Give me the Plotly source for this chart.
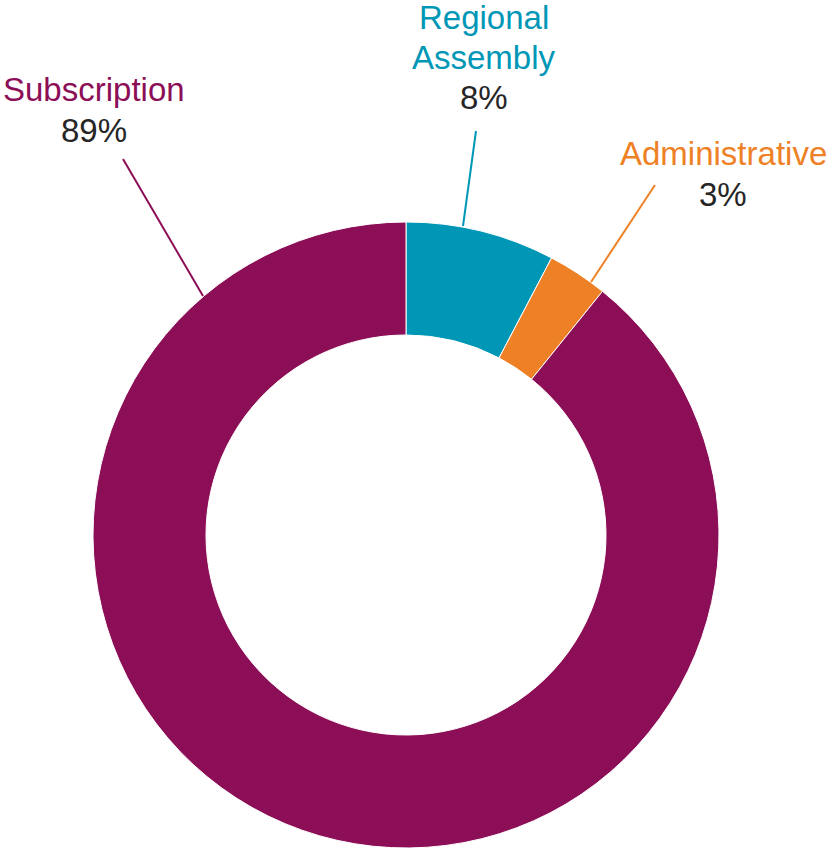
import plotly.graph_objects as go

categories = ["Regional Assembly", "Administrative", "Subscription"]
values = [7.7, 3.1, 89.2]
colors = ["#0097B7", "#EE8125", "#8C0E57"]
display_lines = [["Regional", "Assembly"], ["Administrative"], ["Subscription"]]

W, H = 830, 850

fig = go.Figure(go.Pie(
    labels=categories,
    values=values,
    marker=dict(colors=colors, line=dict(color="white", width=1)),
    hole=0.639,
    sort=False,
    direction="clockwise",
    rotation=0,
    textinfo="none",
    hoverinfo="label+percent",
    domain=dict(x=[93 / W, 719 / W], y=[1 - 848 / H, 1 - 222 / H]),
    showlegend=False,
))

total = sum(values)
# label placement (pixels): text center x, line center ys, leader line start/end
label_pos = {
    "Regional Assembly": dict(cx=484, ys=[18, 57.5, 98], l0=(476, 131), l1=(463, 226)),
    "Administrative": dict(cx=723, ys=[154, 194], l0=(655, 185), l1=(591, 282)),
    "Subscription": dict(cx=94, ys=[90, 131], l0=(123, 159), l1=(203, 296)),
}

FONT = "Liberation Sans, Arial, sans-serif"
annotations = []
shapes = []
for name, dl, v, c in zip(categories, display_lines, values, colors):
    p = label_pos[name]
    pct = round(v / total * 100)
    texts = [(t, c) for t in dl] + [(f"{pct}%", "#262626")]
    for (t, col), yy in zip(texts, p["ys"]):
        annotations.append(dict(
            x=p["cx"] / W, y=1 - yy / H, xref="paper", yref="paper",
            xanchor="center", yanchor="middle", showarrow=False,
            text=t, font=dict(family=FONT, size=33, color=col),
        ))
    shapes.append(dict(
        type="line", xref="paper", yref="paper",
        x0=p["l0"][0] / W, y0=1 - p["l0"][1] / H,
        x1=p["l1"][0] / W, y1=1 - p["l1"][1] / H,
        line=dict(color=c, width=2),
    ))

fig.update_layout(
    width=W, height=H,
    margin=dict(l=0, r=0, t=0, b=0),
    paper_bgcolor="white",
    plot_bgcolor="white",
    annotations=annotations,
    shapes=shapes,
)

fig.write_html(
    "out.html",
    config={"displayModeBar": False},
    post_script="document.body.style.margin='0px';document.body.style.overflow='hidden';",
)
